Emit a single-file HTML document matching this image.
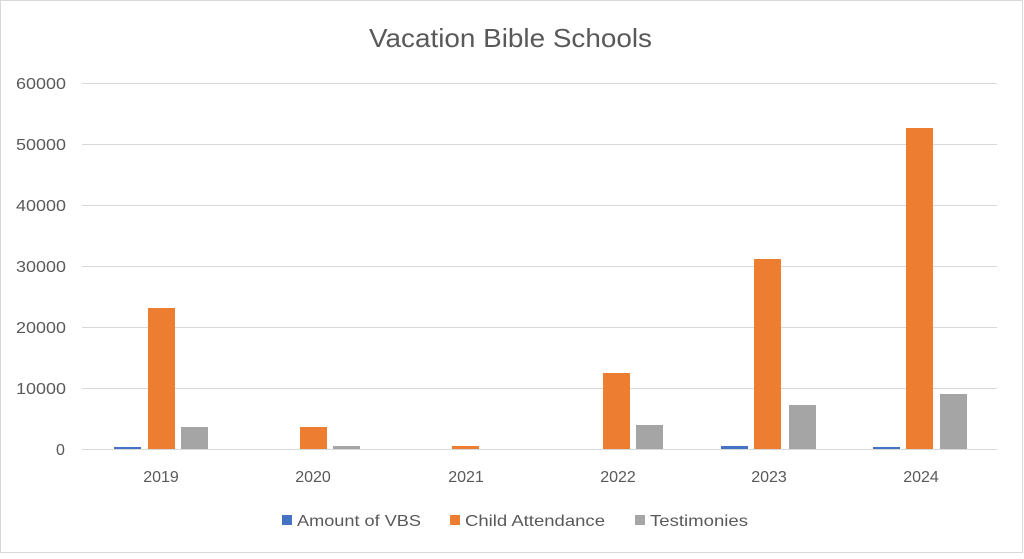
<!DOCTYPE html>
<html><head><style>
body{margin:0;background:#fff;}
svg text{font-family:"Liberation Sans",sans-serif;fill:#595959;}
</style></head><body>
<svg width="1024" height="554" xmlns="http://www.w3.org/2000/svg">
<rect x="0.5" y="0.5" width="1022" height="552" fill="#fff" stroke="#d9d9d9"/>
<text x="369" y="47" font-size="26" textLength="283" lengthAdjust="spacingAndGlyphs">Vacation Bible Schools</text>
<g stroke="#d9d9d9" stroke-width="1">
<line x1="82" x2="997" y1="83.5" y2="83.5"/>
<line x1="82" x2="997" y1="144.5" y2="144.5"/>
<line x1="82" x2="997" y1="205.5" y2="205.5"/>
<line x1="82" x2="997" y1="266.5" y2="266.5"/>
<line x1="82" x2="997" y1="327.5" y2="327.5"/>
<line x1="82" x2="997" y1="388.5" y2="388.5"/>
<line x1="82" x2="997" y1="449.5" y2="449.5"/>
</g>
<g font-size="16">
<text x="16" y="89" textLength="50" lengthAdjust="spacingAndGlyphs">60000</text>
<text x="16" y="150" textLength="50" lengthAdjust="spacingAndGlyphs">50000</text>
<text x="16" y="211" textLength="50" lengthAdjust="spacingAndGlyphs">40000</text>
<text x="16" y="272" textLength="50" lengthAdjust="spacingAndGlyphs">30000</text>
<text x="16" y="333" textLength="50" lengthAdjust="spacingAndGlyphs">20000</text>
<text x="16" y="394" textLength="50" lengthAdjust="spacingAndGlyphs">10000</text>
<text x="56" y="455">0</text>
</g>
<g>
<rect x="114" y="447" width="27" height="2" fill="#4472c4"/>
<rect x="148" y="308" width="27" height="141" fill="#ed7d31"/>
<rect x="181" y="427" width="27" height="22" fill="#a5a5a5"/>
<rect x="300" y="427" width="27" height="22" fill="#ed7d31"/>
<rect x="333" y="446" width="27" height="3" fill="#a5a5a5"/>
<rect x="452" y="446" width="27" height="3" fill="#ed7d31"/>
<rect x="603" y="373" width="27" height="76" fill="#ed7d31"/>
<rect x="636" y="425" width="27" height="24" fill="#a5a5a5"/>
<rect x="721" y="446" width="27" height="3" fill="#4472c4"/>
<rect x="754" y="259" width="27" height="190" fill="#ed7d31"/>
<rect x="789" y="405" width="27" height="44" fill="#a5a5a5"/>
<rect x="873" y="447" width="27" height="2" fill="#4472c4"/>
<rect x="906" y="128" width="27" height="321" fill="#ed7d31"/>
<rect x="940" y="394" width="27" height="55" fill="#a5a5a5"/>
</g>
<g font-size="16" text-anchor="middle">
<text x="161" y="482">2019</text>
<text x="313" y="482">2020</text>
<text x="466" y="482">2021</text>
<text x="618" y="482">2022</text>
<text x="769" y="482">2023</text>
<text x="921" y="482">2024</text>
</g>
<g font-size="16">
<rect x="282" y="515" width="10" height="10" fill="#4472c4"/>
<text x="297" y="526" textLength="124" lengthAdjust="spacingAndGlyphs">Amount of VBS</text>
<rect x="450" y="515" width="10" height="10" fill="#ed7d31"/>
<text x="465" y="526" textLength="140" lengthAdjust="spacingAndGlyphs">Child Attendance</text>
<rect x="635" y="515" width="10" height="10" fill="#a5a5a5"/>
<text x="650" y="526" textLength="98" lengthAdjust="spacingAndGlyphs">Testimonies</text>
</g>
</svg>
</body></html>
